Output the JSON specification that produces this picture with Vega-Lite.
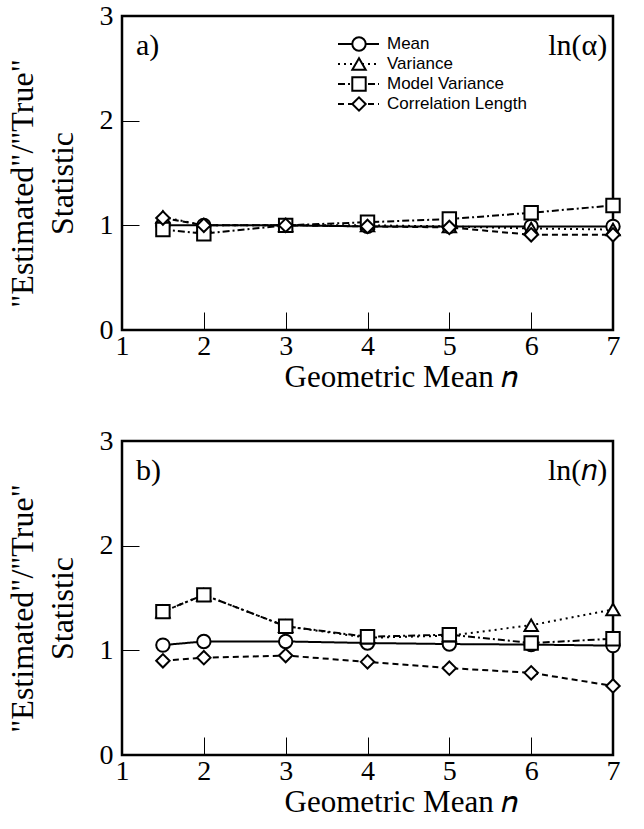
{
  "$schema": "https://vega.github.io/schema/vega-lite/v6.json",
  "background": "white",
  "padding": {"left": 4, "top": 0, "right": 0, "bottom": 0},
  "bounds": "flush",
  "spacing": 111,
  "config": {
    "font": "Liberation Serif",
    "view": {"stroke": "black", "strokeWidth": 2.5},
    "axis": {
      "domain": false,
      "grid": false,
      "tickColor": "black",
      "tickWidth": 1,
      "labelFont": "Liberation Serif",
      "labelFontSize": 28,
      "labelColor": "black",
      "titleFont": "Liberation Serif",
      "titleFontWeight": "normal",
      "titleColor": "black",
      "format": "d"
    },
    "axisX": {"tickSize": -18, "labelPadding": 20, "labelFlush": false, "labelOverlap": false, "titlePadding": 2, "titleFontSize": 31},
    "axisY": {"tickSize": -17, "labelPadding": 26, "labelOverlap": false, "titlePadding": 20, "titleFontSize": 32, "titleLineHeight": 40}
  },
  "datasets": {
    "a": [
      {"n": 1.5, "series": "Mean", "value": 1.0},
      {"n": 2, "series": "Mean", "value": 1.0},
      {"n": 3, "series": "Mean", "value": 1.0},
      {"n": 4, "series": "Mean", "value": 0.99},
      {"n": 5, "series": "Mean", "value": 0.99},
      {"n": 6, "series": "Mean", "value": 0.99},
      {"n": 7, "series": "Mean", "value": 0.99},
      {"n": 1.5, "series": "Variance", "value": 1.08},
      {"n": 2, "series": "Variance", "value": 1.0},
      {"n": 3, "series": "Variance", "value": 1.0},
      {"n": 4, "series": "Variance", "value": 1.0},
      {"n": 5, "series": "Variance", "value": 0.99},
      {"n": 6, "series": "Variance", "value": 0.97},
      {"n": 7, "series": "Variance", "value": 0.96},
      {"n": 1.5, "series": "Model Variance", "value": 0.96},
      {"n": 2, "series": "Model Variance", "value": 0.92},
      {"n": 3, "series": "Model Variance", "value": 1.0},
      {"n": 4, "series": "Model Variance", "value": 1.03},
      {"n": 5, "series": "Model Variance", "value": 1.06},
      {"n": 6, "series": "Model Variance", "value": 1.12},
      {"n": 7, "series": "Model Variance", "value": 1.19},
      {"n": 1.5, "series": "Correlation Length", "value": 1.07},
      {"n": 2, "series": "Correlation Length", "value": 1.0},
      {"n": 3, "series": "Correlation Length", "value": 1.0},
      {"n": 4, "series": "Correlation Length", "value": 0.99},
      {"n": 5, "series": "Correlation Length", "value": 0.98},
      {"n": 6, "series": "Correlation Length", "value": 0.91},
      {"n": 7, "series": "Correlation Length", "value": 0.91}
    ],
    "b": [
      {"n": 1.5, "series": "Mean", "value": 1.05},
      {"n": 2, "series": "Mean", "value": 1.085},
      {"n": 3, "series": "Mean", "value": 1.085},
      {"n": 4, "series": "Mean", "value": 1.07},
      {"n": 5, "series": "Mean", "value": 1.06},
      {"n": 6, "series": "Mean", "value": 1.055},
      {"n": 7, "series": "Mean", "value": 1.045},
      {"n": 1.5, "series": "Variance", "value": 1.37},
      {"n": 2, "series": "Variance", "value": 1.53},
      {"n": 3, "series": "Variance", "value": 1.23},
      {"n": 4, "series": "Variance", "value": 1.12},
      {"n": 5, "series": "Variance", "value": 1.14},
      {"n": 6, "series": "Variance", "value": 1.24},
      {"n": 7, "series": "Variance", "value": 1.39},
      {"n": 1.5, "series": "Model Variance", "value": 1.37},
      {"n": 2, "series": "Model Variance", "value": 1.53},
      {"n": 3, "series": "Model Variance", "value": 1.23},
      {"n": 4, "series": "Model Variance", "value": 1.13},
      {"n": 5, "series": "Model Variance", "value": 1.15},
      {"n": 6, "series": "Model Variance", "value": 1.07},
      {"n": 7, "series": "Model Variance", "value": 1.11},
      {"n": 1.5, "series": "Correlation Length", "value": 0.9},
      {"n": 2, "series": "Correlation Length", "value": 0.93},
      {"n": 3, "series": "Correlation Length", "value": 0.95},
      {"n": 4, "series": "Correlation Length", "value": 0.89},
      {"n": 5, "series": "Correlation Length", "value": 0.83},
      {"n": 6, "series": "Correlation Length", "value": 0.785},
      {"n": 7, "series": "Correlation Length", "value": 0.66}
    ]
  },
  "vconcat": [
    {
      "width": 491,
      "height": 314,
      "layer": [
        {
          "data": {"name": "a"},
          "mark": {"type": "line", "strokeWidth": 2, "color": "black"},
          "encoding": {
            "x": {"field": "n", "type": "quantitative", "scale": {"domain": [1, 7]}, "axis": {"values": [1, 2, 3, 4, 5, 6, 7], "title": "Geometric Mean 𝑛", "titleX": 279}},
            "y": {"field": "value", "type": "quantitative", "scale": {"domain": [0, 3]}, "axis": {"values": [0, 1, 2, 3], "title": ["\"Estimated\"/\"True\"", "Statistic"], "titleY": 167}},
            "strokeDash": {
              "field": "series", "type": "nominal",
              "sort": ["Mean", "Variance", "Model Variance", "Correlation Length"],
              "scale": {"range": [[1, 0], [2, 4], [7, 3, 2, 3], [6, 4]]},
              "legend": {"orient": "none", "legendX": 205, "legendY": 9, "padding": 10, "title": null, "symbolType": "stroke", "symbolSize": 1681, "symbolStrokeWidth": 2, "symbolStrokeColor": "black", "labelFont": "Liberation Sans", "labelFontSize": 17, "labelColor": "black", "labelOffset": 7, "clipHeight": 18, "rowPadding": 2, "zindex": 1}
            }
          }
        },
        {
          "data": {"name": "a"},
          "mark": {"type": "point", "filled": true, "fill": "white", "stroke": "black", "strokeWidth": 2, "size": 180, "opacity": 1},
          "encoding": {
            "x": {"field": "n", "type": "quantitative"},
            "y": {"field": "value", "type": "quantitative"},
            "shape": {
              "field": "series", "type": "nominal",
              "scale": {"domain": ["Mean", "Variance", "Model Variance", "Correlation Length"], "range": ["circle", "triangle-up", "square", "diamond"]},
              "legend": {
                "orient": "none", "legendX": 218.5, "legendY": 9, "padding": 10, "title": null,
                "symbolSize": 180, "symbolStrokeWidth": 2,
                "labelFont": "Liberation Sans", "labelFontSize": 17, "labelExpr": "''", "clipHeight": 18, "rowPadding": 2, "zindex": 2,
                "encode": {"symbols": {"stroke": {"value": "black"}, "fill": {"value": "white"}, "strokeWidth": {"value": 2}, "strokeOpacity": {"value": 1}, "fillOpacity": {"value": 1}}}
              }
            }
          }
        },
        {
          "data": {"values": [{}]},
          "mark": {"type": "text", "text": "a)", "align": "left", "baseline": "middle", "fontSize": 30, "font": "Liberation Serif", "color": "black"},
          "encoding": {"x": {"datum": 1.17}, "y": {"datum": 2.71}}
        },
        {
          "data": {"values": [{}]},
          "mark": {"type": "text", "text": "ln(α)", "align": "right", "baseline": "middle", "fontSize": 30, "font": "Liberation Serif", "color": "black"},
          "encoding": {"x": {"datum": 6.93}, "y": {"datum": 2.71}}
        }
      ]
    },
    {
      "width": 491,
      "height": 314,
      "layer": [
        {
          "data": {"name": "b"},
          "mark": {"type": "line", "strokeWidth": 2, "color": "black"},
          "encoding": {
            "x": {"field": "n", "type": "quantitative", "scale": {"domain": [1, 7]}, "axis": {"values": [1, 2, 3, 4, 5, 6, 7], "title": "Geometric Mean 𝑛", "titleX": 279}},
            "y": {"field": "value", "type": "quantitative", "scale": {"domain": [0, 3]}, "axis": {"values": [0, 1, 2, 3], "title": ["\"Estimated\"/\"True\"", "Statistic"], "titleY": 167}},
            "strokeDash": {
              "field": "series", "type": "nominal",
              "sort": ["Mean", "Variance", "Model Variance", "Correlation Length"],
              "scale": {"range": [[1, 0], [2, 4], [7, 3, 2, 3], [6, 4]]}
            }
          }
        },
        {
          "data": {"name": "b"},
          "mark": {"type": "point", "filled": true, "fill": "white", "stroke": "black", "strokeWidth": 2, "size": 180, "opacity": 1},
          "encoding": {
            "x": {"field": "n", "type": "quantitative"},
            "y": {"field": "value", "type": "quantitative"},
            "shape": {
              "field": "series", "type": "nominal",
              "scale": {"domain": ["Mean", "Variance", "Model Variance", "Correlation Length"], "range": ["circle", "triangle-up", "square", "diamond"]}
            }
          }
        },
        {
          "data": {"values": [{}]},
          "mark": {"type": "text", "text": "b)", "align": "left", "baseline": "middle", "fontSize": 30, "font": "Liberation Serif", "color": "black"},
          "encoding": {"x": {"datum": 1.17}, "y": {"datum": 2.71}}
        },
        {
          "data": {"values": [{}]},
          "mark": {"type": "text", "text": "ln(𝑛)", "align": "right", "baseline": "middle", "fontSize": 30, "font": "Liberation Serif", "color": "black"},
          "encoding": {"x": {"datum": 6.93}, "y": {"datum": 2.71}}
        }
      ]
    }
  ]
}
